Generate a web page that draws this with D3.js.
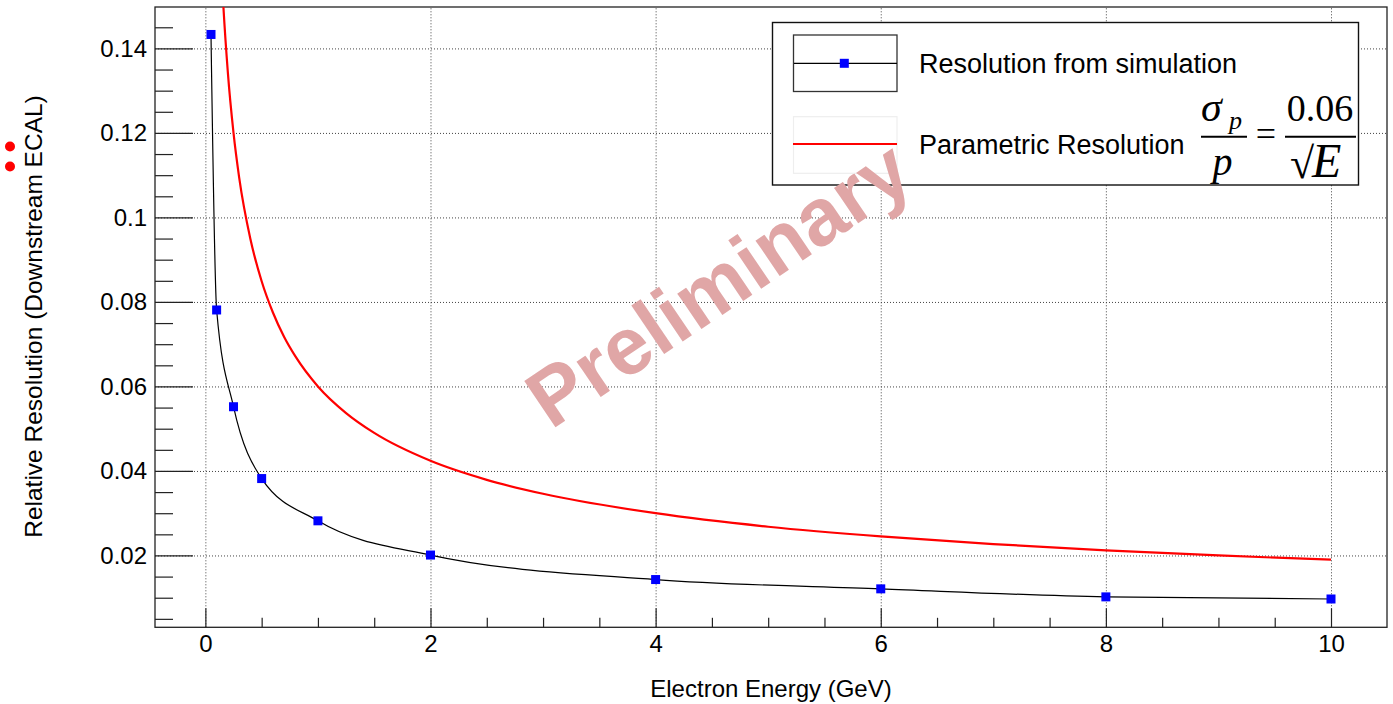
<!DOCTYPE html>
<html><head><meta charset="utf-8">
<script src="https://cdn.jsdelivr.net/npm/d3@7"></script>
<style>body{margin:0;background:#fff} svg{display:block}</style>
</head><body><svg id="c" width="1393" height="704"></svg>
<script>
// ---- data ----
const simEnergy = [0.05, 0.1, 0.25, 0.5, 1, 2, 4, 6, 8, 10];
const simResolution = [0.1433, 0.0781, 0.0552, 0.0382, 0.0282, 0.0201, 0.0143, 0.0121, 0.0102, 0.0097];
const paramEnergy = [0.1, 0.12, 0.15, 0.2, 0.25, 0.3, 0.4, 0.5, 0.6, 0.7, 0.8, 1.0, 1.25, 1.5, 2, 2.5, 3, 4, 5, 6, 7, 8, 9, 10];
const paramResolution = [0.1897, 0.1732, 0.1549, 0.1342, 0.12, 0.1095, 0.0949, 0.0849, 0.0775, 0.0717, 0.0671, 0.06, 0.0537, 0.049, 0.0424, 0.0379, 0.0346, 0.03, 0.0268, 0.0245, 0.0227, 0.0212, 0.02, 0.019];
const xTickValues = [0, 2, 4, 6, 8, 10];
const xTickLabels = ["0", "2", "4", "6", "8", "10"];
const xMinorTicks = [0.5, 1, 1.5, 2.5, 3, 3.5, 4.5, 5, 5.5, 6.5, 7, 7.5, 8.5, 9, 9.5];
const yTickValues = [0.02, 0.04, 0.06, 0.08, 0.1, 0.12, 0.14];
const yTickLabels = ["0.02", "0.04", "0.06", "0.08", "0.1", "0.12", "0.14"];
const yMinorTicks = [0.005, 0.01, 0.015, 0.025, 0.03, 0.035, 0.045, 0.05, 0.055, 0.065, 0.07, 0.075, 0.085, 0.09, 0.095, 0.105, 0.11, 0.115, 0.125, 0.13, 0.135, 0.145];
const xDomain = [-0.4475, 10.4975];
const yDomain = [0.003, 0.1498];
const legendLabels = ["Resolution from simulation", "Parametric Resolution"];
const xTitle = "Electron Energy (GeV)";
const yTitle = "Relative Resolution (Downstream ECAL)";
const watermark = "Preliminary";

// ---- layout ----
const L = 155, T = 7, R = 1387, B = 627.3;
const sans = "'Liberation Sans', Arial, Helvetica, sans-serif";
const serif = "'Liberation Serif', 'Times New Roman', serif";
const svg = d3.select("#c");
const x = d3.scaleLinear().domain(xDomain).range([L, R]);
const y = d3.scaleLinear().domain(yDomain).range([B, T]);

// grid
const grid = svg.append("g");
grid.append("g").attr("transform", `translate(0,${B})`)
  .call(d3.axisBottom(x).tickValues(xTickValues).tickSize(-(B - T)).tickFormat(""))
  .call(g => g.select(".domain").remove());
grid.append("g").attr("transform", `translate(${L},0)`)
  .call(d3.axisLeft(y).tickValues(yTickValues).tickSize(-(R - L)).tickFormat(""))
  .call(g => g.select(".domain").remove());
grid.selectAll("line").attr("stroke", "#444").attr("stroke-width", 1).attr("stroke-dasharray", "1,2");

// axes (ticks inside)
const ax = svg.append("g").attr("font-family", sans);
ax.append("g").attr("transform", `translate(0,${B})`)
  .call(d3.axisBottom(x).tickValues(xTickValues).tickSize(-19).tickPadding(7.5)
    .tickFormat((d, i) => xTickLabels[i]));
ax.append("g").attr("transform", `translate(0,${B})`)
  .call(d3.axisBottom(x).tickValues(xMinorTicks).tickSize(-9.5).tickFormat(""));
ax.append("g").attr("transform", `translate(${L},0)`)
  .call(d3.axisLeft(y).tickValues(yTickValues).tickSize(-38).tickPadding(8)
    .tickFormat((d, i) => yTickLabels[i]));
ax.append("g").attr("transform", `translate(${L},0)`)
  .call(d3.axisLeft(y).tickValues(yMinorTicks).tickSize(-18).tickFormat(""));
ax.selectAll(".domain").remove();
ax.selectAll("line").attr("stroke", "#222").attr("stroke-width", 1.2);
ax.selectAll("text").attr("font-size", 24).attr("fill", "#000").attr("font-family", sans);

// frame
svg.append("rect").attr("x", L).attr("y", T).attr("width", R - L).attr("height", B - T)
  .attr("fill", "none").attr("stroke", "#222").attr("stroke-width", 1.3);

// titles
svg.append("text").attr("x", (L + R) / 2).attr("y", 697).attr("text-anchor", "middle")
  .attr("font-family", sans).attr("font-size", 24).text(xTitle);
svg.append("text").attr("transform", "translate(42,316.5) rotate(-90)").attr("text-anchor", "middle")
  .attr("font-family", sans).attr("font-size", 24.5).text(yTitle);
svg.append("circle").attr("cx", 10).attr("cy", 146.5).attr("r", 5).attr("fill", "#f00");
svg.append("circle").attr("cx", 10).attr("cy", 166.5).attr("r", 5).attr("fill", "#f00");

// clip
svg.append("clipPath").attr("id", "clip").append("rect")
  .attr("x", L).attr("y", T).attr("width", R - L).attr("height", B - T);
const plot = svg.append("g").attr("clip-path", "url(#clip)");

const paramPts = paramEnergy.map((e, i) => [e, paramResolution[i]]);
plot.append("path").datum(paramPts)
  .attr("d", d3.line().x(d => x(d[0])).y(d => y(d[1])).curve(d3.curveMonotoneX))
  .attr("fill", "none").attr("stroke", "#ff0000").attr("stroke-width", 2.2);

const simPts = simEnergy.map((e, i) => [e, simResolution[i]]);
plot.append("path").datum(simPts)
  .attr("d", d3.line().x(d => x(d[0])).y(d => y(d[1])).curve(d3.curveMonotoneX))
  .attr("fill", "none").attr("stroke", "#000").attr("stroke-width", 1.2);
const ms = 9;
plot.selectAll("rect.m").data(simPts).enter().append("rect").attr("class", "m")
  .attr("x", d => x(d[0]) - ms / 2).attr("y", d => y(d[1]) - ms / 2)
  .attr("width", ms).attr("height", ms).attr("fill", "#0000ff");

// legend
const lg = svg.append("g");
lg.append("rect").attr("x", 772.5).attr("y", 22.5).attr("width", 586).attr("height", 162.5)
  .attr("fill", "#fff").attr("stroke", "#111").attr("stroke-width", 1.4);
lg.append("rect").attr("x", 793.5).attr("y", 35).attr("width", 103.5).attr("height", 56.5)
  .attr("fill", "none").attr("stroke", "#333").attr("stroke-width", 1.3);
lg.append("line").attr("x1", 794).attr("x2", 897).attr("y1", 63.3).attr("y2", 63.3)
  .attr("stroke", "#000").attr("stroke-width", 1.2);
lg.append("rect").attr("x", 844.3 - ms / 2).attr("y", 63.3 - ms / 2).attr("width", ms).attr("height", ms).attr("fill", "#0000ff");
lg.append("rect").attr("x", 793.5).attr("y", 116.7).attr("width", 103.5).attr("height", 56.6)
  .attr("fill", "none").attr("stroke", "#eee").attr("stroke-width", 1.2);
lg.append("line").attr("x1", 793).attr("x2", 897).attr("y1", 144).attr("y2", 144)
  .attr("stroke", "#ff0000").attr("stroke-width", 2.2);
lg.append("text").attr("x", 919).attr("y", 73.3).attr("font-family", sans).attr("font-size", 27).text(legendLabels[0]);
lg.append("text").attr("x", 919).attr("y", 154).attr("font-family", sans).attr("font-size", 27).text(legendLabels[1]);
// formula sigma_p / p = 0.06 / sqrt(E)
const f = lg.append("g").attr("font-family", serif);
f.append("text").attr("x", 1201).attr("y", 121).attr("font-size", 42).attr("font-style", "italic").text("σ");
f.append("text").attr("x", 1229).attr("y", 129).attr("font-size", 26).attr("font-style", "italic").text("p");
f.append("line").attr("x1", 1201).attr("x2", 1247).attr("y1", 136.7).attr("y2", 136.7).attr("stroke", "#000").attr("stroke-width", 2);
f.append("text").attr("x", 1222.5).attr("y", 175).attr("text-anchor", "middle").attr("font-size", 40).attr("font-style", "italic").text("p");
f.append("text").attr("x", 1266).attr("y", 146).attr("text-anchor", "middle").attr("font-size", 36).text("=");
f.append("text").attr("x", 1320).attr("y", 121).attr("text-anchor", "middle").attr("font-size", 38).text("0.06");
f.append("line").attr("x1", 1285).attr("x2", 1356).attr("y1", 136.7).attr("y2", 136.7).attr("stroke", "#000").attr("stroke-width", 2);
f.append("text").attr("x", 1290).attr("y", 178).attr("font-size", 44).text("√");
f.append("text").attr("x", 1312).attr("y", 176.5).attr("font-size", 48).attr("font-style", "italic").text("E");

// watermark
svg.append("text").attr("transform", "translate(734,307) rotate(-34)").attr("text-anchor", "middle")
  .attr("font-family", sans).attr("font-weight", "bold").attr("font-size", 81)
  .attr("fill", "#e0a6a6").text(watermark);
</script></body></html>
